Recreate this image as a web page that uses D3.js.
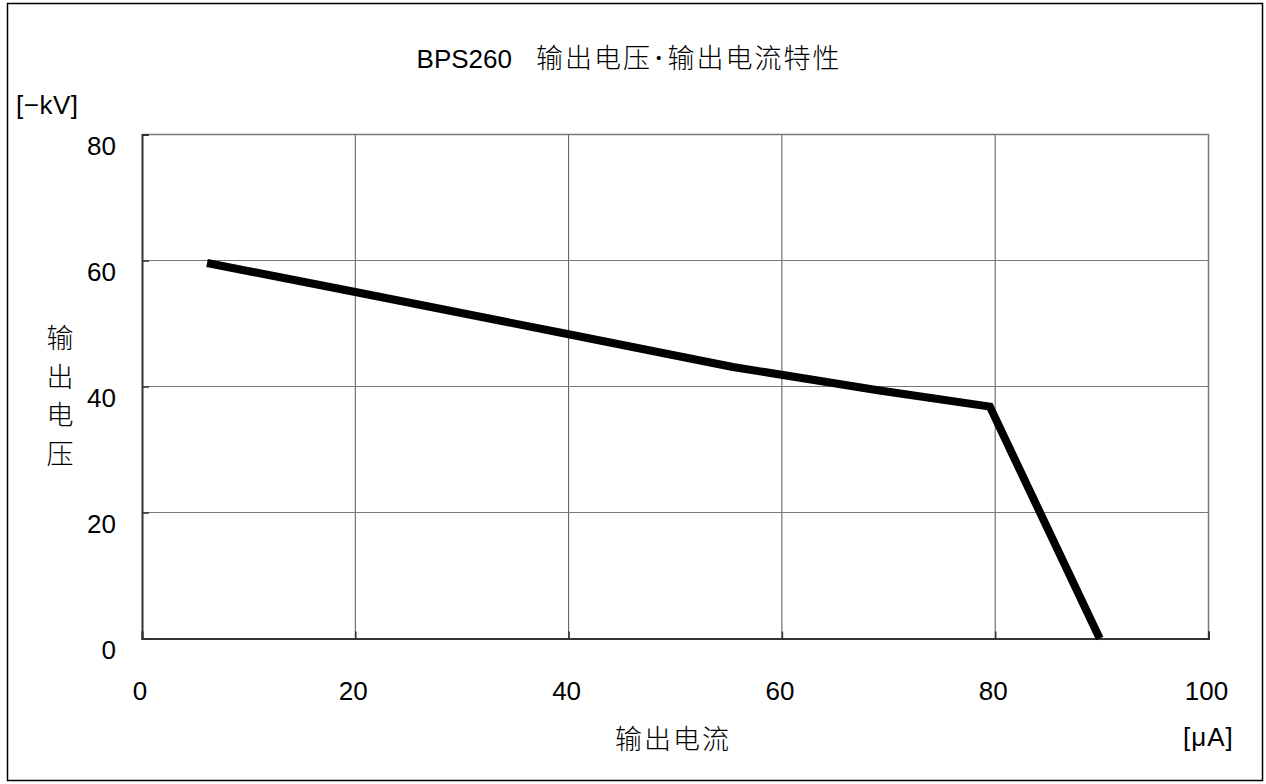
<!DOCTYPE html>
<html>
<head>
<meta charset="utf-8">
<script src="https://cdn.jsdelivr.net/npm/d3@7"></script>
<style>
    body { margin: 0; background: #fff; }
    .num { font-family: "Liberation Sans", Arial, sans-serif; font-size: 26px; fill: #000; }
    .cjk { font-family: "Noto Sans CJK SC", "Noto Sans CJK JP", sans-serif; font-size: 27px; font-weight: 300; fill: #000; }
</style>
</head>
<body>
<svg id="chart" width="1266" height="784"></svg>
<script>
var width = 1266;
var height = 784;

// output current [uA] and output voltage [-kV]
var current = [6.1, 20, 40, 55.4, 69, 79.5, 89.8];
var voltage = [59.6, 55.0, 48.3, 43.1, 39.4, 36.8, 0];

var xTicks = [0, 20, 40, 60, 80, 100];
var yTicks = [0, 20, 40, 60, 80];

var titleLatin = 'BPS260';
var titleCjk = '输出电压･输出电流特性';
var yLabel = ['输', '出', '电', '压'];
var xLabel = '输出电流';
var yUnit = '[−kV]';
var xUnit = '[μA]';

var plot = { left: 142, right: 1208.5, top: 134.5, bottom: 638.5 };

var x = d3.scaleLinear().domain([0, 100]).range([plot.left, plot.right]);
var y = d3.scaleLinear().domain([0, 80]).range([plot.bottom, plot.top]);

var svg = d3.select('#chart');

// outer frame
svg.append('rect')
    .attr('x', 7.5)
    .attr('y', 3.5)
    .attr('width', 1255)
    .attr('height', 777)
    .attr('fill', 'none')
    .attr('stroke', '#000')
    .attr('stroke-width', 1.5);

// grid
svg.append('g')
    .selectAll('line')
    .data(xTicks.slice(1, -1))
    .join('line')
    .attr('x1', function(d) { return x(d); })
    .attr('x2', function(d) { return x(d); })
    .attr('y1', plot.top)
    .attr('y2', plot.bottom)
    .attr('stroke', '#555')
    .attr('stroke-width', 1);

svg.append('g')
    .selectAll('line')
    .data(yTicks.slice(1, -1))
    .join('line')
    .attr('x1', plot.left)
    .attr('x2', plot.right)
    .attr('y1', function(d) { return y(d); })
    .attr('y2', function(d) { return y(d); })
    .attr('stroke', '#777')
    .attr('stroke-width', 1.2);

// top and right frame of the plot
svg.append('path')
    .attr('d', 'M' + plot.left + ',' + plot.top + 'H' + plot.right + 'V' + plot.bottom)
    .attr('fill', 'none')
    .attr('stroke', '#777')
    .attr('stroke-width', 1.5);

// axes with inward ticks, labels drawn separately
var xAxis = svg.append('g')
    .attr('transform', 'translate(0,' + plot.bottom + ')')
    .call(d3.axisBottom(x).tickValues(xTicks).tickSize(-7).tickFormat(''));
var yAxis = svg.append('g')
    .attr('transform', 'translate(' + plot.left + ',0)')
    .call(d3.axisLeft(y).tickValues(yTicks).tickSize(-7).tickFormat(''));
[xAxis, yAxis].forEach(function(a) {
    a.select('.domain').attr('stroke', '#333').attr('stroke-width', 2);
    a.selectAll('.tick line').attr('stroke', '#333').attr('stroke-width', 1.5);
});

// tick labels
svg.append('g')
    .selectAll('text')
    .data(xTicks)
    .join('text')
    .classed('num', true)
    .attr('x', function(d) { return x(d) - 2; })
    .attr('y', plot.bottom + 61)
    .attr('text-anchor', 'middle')
    .text(function(d) { return d; });

svg.append('g')
    .selectAll('text')
    .data(yTicks)
    .join('text')
    .classed('num', true)
    .attr('x', 116)
    .attr('y', function(d) { return y(d) + 20; })
    .attr('text-anchor', 'end')
    .text(function(d) { return d; });

// curve
var line = d3.line()
    .x(function(d) { return x(d[0]); })
    .y(function(d) { return y(d[1]); });

svg.append('path')
    .datum(d3.zip(current, voltage))
    .attr('d', line)
    .attr('fill', 'none')
    .attr('stroke', '#000')
    .attr('stroke-width', 8)
    .attr('stroke-linejoin', 'miter');

// title
var title = svg.append('text')
    .attr('x', 629)
    .attr('y', 68)
    .attr('text-anchor', 'middle');
title.append('tspan')
    .classed('num', true)
    .text(titleLatin);
title.append('tspan')
    .classed('cjk', true)
    .attr('dx', 24)
    .attr('letter-spacing', 2)
    .text(titleCjk);

// axis titles and units
svg.append('g')
    .selectAll('text')
    .data(yLabel)
    .join('text')
    .classed('cjk', true)
    .attr('x', 60)
    .attr('y', function(d, i) { return 348 + i * 38.5; })
    .attr('text-anchor', 'middle')
    .text(function(d) { return d; });

svg.append('text')
    .classed('cjk', true)
    .attr('x', 673)
    .attr('y', 749)
    .attr('text-anchor', 'middle')
    .attr('letter-spacing', 2)
    .text(xLabel);

svg.append('text')
    .classed('num', true)
    .attr('x', 16)
    .attr('y', 114)
    .attr('letter-spacing', 0.5)
    .text(yUnit);

svg.append('text')
    .classed('num', true)
    .attr('x', 1183)
    .attr('y', 746)
    .attr('letter-spacing', 1)
    .text(xUnit);
</script>
</body>
</html>
